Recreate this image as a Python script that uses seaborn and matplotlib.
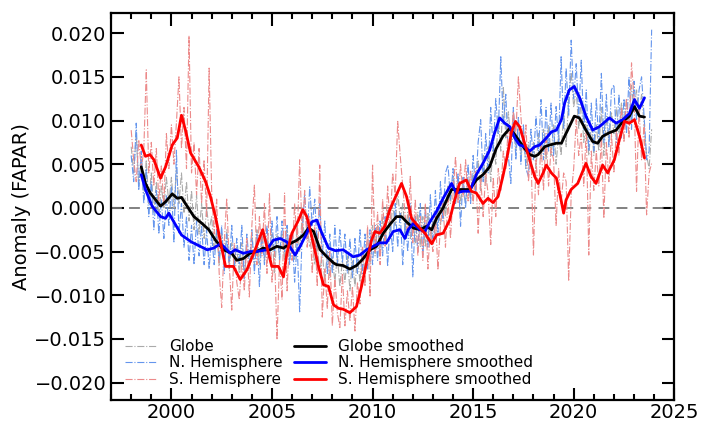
import numpy as np
import matplotlib
matplotlib.use('Agg')
import matplotlib.pyplot as plt
import seaborn as sns
from matplotlib.ticker import MultipleLocator

# raw series: 8 samples per year, 1998.0 ... 2023.875
raw_start = 1998.0
raw_step = 0.125

globe_raw = [
    0.007, 0.004, 0.0085, 0.0025, 0.006, 0.001, 0.0055, 0.0005,
    0.004, -0.0005, 0.003, -0.001, 0.0025, 0.0, 0.0035, 0.0005,
    0.0035, 0.0, 0.0045, 0.0005, 0.004, -0.0005, 0.003, -0.0015,
    0.002, -0.0025, 0.0015, -0.003, 0.0005, -0.0035, 0.0, -0.0025,
    -0.001, -0.005, -0.0025, -0.0065, -0.003, -0.0065, -0.0025, -0.007,
    -0.004, -0.007, -0.0045, -0.0075, -0.004, -0.008, -0.0045, -0.007,
    -0.003, -0.0065, -0.0025, -0.0065, -0.003, -0.006, -0.0035, -0.0055,
    -0.003, -0.0075, -0.003, -0.006, -0.003, -0.006, -0.0025, -0.0055,
    -0.0035, -0.006, -0.002, -0.005, -0.001, -0.0035, -0.002, -0.0045,
    -0.0035, -0.0065, -0.004, -0.0075, -0.005, -0.0085, -0.005, -0.008,
    -0.0055, -0.0085, -0.0055, -0.009, -0.006, -0.0085, -0.0055, -0.0095,
    -0.006, -0.009, -0.0055, -0.0085, -0.0045, -0.0075, -0.003, -0.0065,
    -0.002, -0.0055, -0.002, -0.005, -0.001, -0.004, 0.0, -0.0035,
    0.0005, -0.002, 0.002, -0.0015, 0.0005, -0.003, -0.0005, -0.0035,
    -0.001, -0.004, -0.0005, -0.0045, -0.001, -0.0045, -0.0005, -0.004,
    -0.0015, -0.0035, 0.0, -0.002, 0.001, -0.001, 0.0025, 0.0005,
    0.0035, 0.0005, 0.0035, 0.0005, 0.003, 0.0005, 0.0035, 0.001,
    0.004, 0.0015, 0.0055, 0.002, 0.006, 0.0025, 0.007, 0.003,
    0.0075, 0.005, 0.0105, 0.0065, 0.0139, 0.008, 0.011, 0.0075,
    0.011, 0.0065, 0.0095, 0.006, 0.009, 0.0045, 0.0075, 0.0045,
    0.0075, 0.0045, 0.0085, 0.0055, 0.009, 0.0055, 0.0095, 0.006,
    0.0095, 0.005, 0.0085, 0.006, 0.011, 0.007, 0.0125, 0.0155,
    0.0115, 0.0135, 0.009, 0.0125, 0.0075, 0.0105, 0.006, 0.0095,
    0.006, 0.0095, 0.0065, 0.0115, 0.006, 0.0105, 0.0075, 0.011,
    0.0085, 0.0115, 0.0085, 0.012, 0.0095, 0.0125, 0.0095, 0.014,
    0.011, 0.0135, 0.0105, 0.013, 0.0095, 0.006, 0.0045, 0.009,
]

nh_raw = [
    0.006, 0.003, 0.0097, 0.002, 0.0065, 0.0005, 0.0045, -0.001,
    0.003, -0.0025, 0.002, -0.003, 0.001, -0.0035, 0.0015, -0.002,
    0.0025, -0.004, 0.0066, -0.003, 0.0005, -0.0045, -0.001, -0.006,
    -0.002, -0.0065, -0.0015, -0.0055, -0.002, -0.0065, -0.0025, -0.007,
    -0.003, -0.0065, -0.0025, -0.006, -0.002, -0.0075, -0.003, -0.0065,
    -0.002, -0.007, -0.0035, -0.0065, -0.002, -0.0082, -0.003, -0.0065,
    -0.0025, -0.0075, -0.003, -0.009, -0.0025, -0.0065, -0.002, -0.006,
    -0.0015, -0.0055, -0.001, -0.006, -0.0015, -0.005, -0.002, -0.0065,
    -0.003, -0.0085, -0.004, -0.0119, -0.003, 0.0017, -0.0035, 0.0024,
    -0.002, 0.001, -0.0045, 0.0005, -0.0055, -0.0015, -0.0075, -0.003,
    -0.0075, -0.002, -0.0065, -0.0025, -0.0063, -0.003, -0.0075, -0.0035,
    -0.008, -0.0035, -0.0075, -0.0025, -0.0075, -0.003, -0.007, -0.0025,
    -0.0065, -0.002, -0.006, -0.0015, -0.0055, -0.001, -0.0067, -0.0015,
    -0.005, 0.0005, -0.0045, -0.0005, -0.0065, -0.0015, -0.005, 0.0005,
    -0.0079, -0.001, -0.005, 0.0005, -0.0055, 0.0, -0.0045, 0.0015,
    -0.0035, 0.002, -0.003, 0.003, -0.0015, 0.004, 0.0049, 0.001,
    0.0045, 0.0005, 0.004, -0.0021, 0.0035, 0.0, 0.005, 0.0005,
    0.006, 0.002, 0.0075, 0.0101, 0.003, 0.0085, 0.004, 0.0115,
    0.0065, 0.0125, 0.0085, 0.0173, 0.0095, 0.013, 0.006, 0.0028,
    0.0115, 0.0055, 0.0105, 0.005, 0.0095, 0.0045, 0.0036, 0.009,
    0.0055, 0.0105, 0.0065, 0.0124, 0.0055, 0.0115, 0.0065, 0.012,
    0.006, 0.0116, 0.0075, 0.0173, 0.009, 0.016, 0.0105, 0.0192,
    0.0125, 0.0165, 0.0105, 0.0169, 0.009, 0.0135, 0.0065, 0.012,
    0.0065, 0.0125, 0.0075, 0.0154, 0.0075, 0.013, 0.007, 0.0135,
    0.0141, 0.0075, 0.013, 0.008, 0.0125, 0.0085, 0.015, 0.009,
    0.0145, 0.01, 0.0135, 0.015, 0.0105, 0.0055, 0.0065, 0.0204,
]

sh_raw = [
    0.0089, 0.0055, 0.003, 0.0078, 0.0045, 0.0065, 0.0158, 0.004,
    0.0075, 0.0025, 0.0068, 0.0008, 0.0048, 0.0002, 0.0085, 0.0045,
    0.0095, 0.005, 0.0098, 0.015, 0.0068, 0.0115, 0.0045, 0.0197,
    0.004, 0.0075, 0.0015, 0.0068, 0.0005, 0.0055, -0.001, 0.016,
    0.002, -0.003, 0.001, -0.0075, -0.0114, -0.004, 0.0011, -0.0065,
    -0.0117, -0.004, -0.0085, -0.0105, -0.006, -0.0095, -0.0035, -0.0102,
    -0.002, 0.0026, -0.0065, -0.001, -0.0055, 0.0005, -0.0075, 0.0017,
    -0.0085, -0.005, -0.0151, -0.006, -0.0105, 0.0017, -0.0095, -0.003,
    -0.006, 0.0005, -0.004, 0.0055, -0.003, 0.002, -0.0045, -0.001,
    -0.0075, -0.002, -0.009, 0.0049, -0.0125, -0.007, -0.0115, -0.005,
    -0.0135, -0.008, -0.012, -0.0137, -0.0075, -0.0135, -0.0095, -0.013,
    -0.009, -0.0141, -0.0085, -0.011, -0.0045, -0.009, -0.002, -0.0102,
    0.0049, -0.005, -0.0005, -0.0065, 0.001, -0.0045, 0.0025, -0.002,
    0.004, 0.0015, 0.0099, 0.006, 0.0025, -0.001, -0.003, 0.0036,
    -0.004, 0.001, -0.0055, -0.001, -0.006, 0.0005, -0.007, -0.0025,
    -0.005, -0.001, -0.0071, -0.002, 0.0005, -0.0045, 0.001, -0.0035,
    0.0015, 0.0059, 0.0005, 0.005, 0.0012, 0.0055, 0.0008, 0.0042,
    0.0005, 0.0045, -0.0029, 0.0035, -0.001, 0.004, 0.0015, -0.0042,
    0.0035, -0.001, 0.0045, 0.002, 0.0065, 0.0045, 0.0095, 0.0075,
    0.011, 0.0085, 0.015, 0.0105, 0.0065, 0.0095, 0.003, 0.0065,
    -0.0054, 0.0055, 0.0015, 0.0075, 0.002, 0.0085, 0.0025, 0.0068,
    0.0055, -0.002, 0.0045, 0.0005, 0.004, 0.003, -0.0084, 0.0015,
    0.0045, 0.0101, 0.006, 0.0085, 0.0025, 0.009, -0.0054, 0.0065,
    0.002, 0.0065, 0.0025, 0.008, -0.0012, 0.0075, 0.003, 0.0085,
    0.004, 0.009, 0.006, 0.0115, 0.0075, 0.0125, 0.008, 0.0166,
    0.0125, 0.0019, 0.0115, 0.0055, 0.0095, -0.0008, 0.004, 0.0051,
]

# smoothed series (read at irregular points)
globe_sm_t = [1998.5, 1998.71, 1998.95, 1999.46, 1999.71, 2000.04, 2000.29, 2000.5, 2000.78,
              2001.12, 2001.53, 2001.86, 2002.19, 2002.59, 2003.0, 2003.25, 2003.58, 2003.91,
              2004.24, 2004.57, 2004.91, 2005.24, 2005.57, 2005.9, 2006.24, 2006.57, 2006.82,
              2007.07, 2007.4, 2007.73, 2008.06, 2008.21, 2008.54, 2008.87, 2009.2, 2009.54,
              2009.87, 2010.2, 2010.53, 2010.86, 2011.19, 2011.44, 2011.69, 2012.02, 2012.36,
              2012.69, 2012.94, 2013.18, 2013.51, 2013.76, 2013.93, 2014.16, 2014.49, 2014.83,
              2015.16, 2015.49, 2015.82, 2016.15, 2016.48, 2016.82, 2017.07, 2017.31, 2017.56,
              2017.81, 2018.06, 2018.23, 2018.56, 2018.81, 2019.14, 2019.39, 2019.55, 2019.7,
              2020.03, 2020.28, 2020.61, 2020.94, 2021.19, 2021.44, 2021.77, 2022.11, 2022.44,
              2022.77, 2023.02, 2023.27, 2023.52]
globe_sm = [0.0047, 0.0028, 0.0017, 0.0002, 0.0007, 0.0016, 0.0011, 0.0012, 0.0002,
            -0.001, -0.0018, -0.0025, -0.0037, -0.0048, -0.0052, -0.006, -0.0058, -0.0052,
            -0.005, -0.0046, -0.0048, -0.0044, -0.0046, -0.0041, -0.0037, -0.0031, -0.0023,
            -0.0027, -0.0048, -0.0056, -0.0063, -0.0065, -0.0066, -0.007, -0.0066, -0.0058,
            -0.0048, -0.0044, -0.0029, -0.0019, -0.001, -0.001, -0.0016, -0.0023, -0.0025,
            -0.0021, -0.0025, -0.0012, 0.0, 0.0013, 0.0021, 0.0021, 0.0021, 0.0021,
            0.0032, 0.0038, 0.0047, 0.0068, 0.0082, 0.0091, 0.0084, 0.0076, 0.0068,
            0.0061, 0.0059, 0.0061, 0.007, 0.0072, 0.0074, 0.0074, 0.0082, 0.0089,
            0.0105, 0.0103, 0.0089, 0.0076, 0.0074, 0.0082, 0.0086, 0.0089, 0.0099,
            0.0105, 0.0116, 0.0105, 0.0104]

nh_sm_t = [1998.5, 1998.71, 1999.04, 1999.46, 1999.71, 1999.87, 2000.12, 2000.5, 2000.99,
           2001.78, 2002.11, 2002.44, 2002.59, 2002.92, 2003.17, 2003.58, 2003.91, 2004.24,
           2004.74, 2005.07, 2005.41, 2005.74, 2006.15, 2006.4, 2006.73, 2006.98, 2007.23,
           2007.48, 2007.81, 2008.15, 2008.54, 2009.04, 2009.37, 2009.7, 2010.03, 2010.36,
           2010.69, 2011.03, 2011.36, 2011.61, 2011.77, 2012.02, 2012.36, 2012.6, 2012.85,
           2013.18, 2013.51, 2013.93, 2014.16, 2014.49, 2014.83, 2015.16, 2015.49, 2015.82,
           2016.07, 2016.32, 2016.57, 2016.82, 2017.07, 2017.31, 2017.56, 2017.81, 2018.06,
           2018.31, 2018.64, 2018.89, 2019.14, 2019.39, 2019.55, 2019.78, 2020.03, 2020.28,
           2020.61, 2020.94, 2021.28, 2021.78, 2022.11, 2022.44, 2022.77, 2023.02, 2023.27,
           2023.52]
nh_sm = [0.0038, 0.0021, 0.0002, -0.001, -0.0012, -0.0006, -0.0016, -0.0031, -0.0039,
         -0.0048, -0.0046, -0.0041, -0.0044, -0.0052, -0.0048, -0.0052, -0.005, -0.005,
         -0.0048, -0.0037, -0.0035, -0.0039, -0.0054, -0.0044, -0.0029, -0.0016, -0.0014,
         -0.0029, -0.0046, -0.0049, -0.0048, -0.0056, -0.0054, -0.0048, -0.0044, -0.004,
         -0.004, -0.0027, -0.0025, -0.0035, -0.0025, -0.0018, -0.0025, -0.0027, -0.0016,
         -0.0004, 0.0011, 0.0028, 0.0017, 0.0019, 0.0019, 0.0038, 0.0051, 0.0066,
         0.0086, 0.0103, 0.0097, 0.0093, 0.008, 0.0072, 0.007, 0.0065, 0.007,
         0.0072, 0.008, 0.0087, 0.0089, 0.0101, 0.012, 0.0135, 0.0139, 0.0127,
         0.0105, 0.0089, 0.0093, 0.0103, 0.0097, 0.0101, 0.0108, 0.0124, 0.0114,
         0.0126]

sh_sm_t = [1998.5, 1998.71, 1998.93, 1999.13, 1999.46, 1999.71, 2000.04, 2000.29, 2000.5,
           2000.7, 2000.95, 2001.36, 2001.7, 2001.94, 2002.19, 2002.44, 2002.69, 2003.08,
           2003.42, 2003.75, 2004.16, 2004.54, 2004.74, 2004.99, 2005.32, 2005.57, 2005.74,
           2005.99, 2006.32, 2006.53, 2006.73, 2006.98, 2007.31, 2007.56, 2007.81, 2008.06,
           2008.31, 2008.54, 2008.87, 2009.2, 2009.45, 2009.7, 2009.95, 2010.12, 2010.36,
           2010.61, 2010.86, 2011.11, 2011.44, 2011.69, 2011.94, 2012.27, 2012.6, 2012.94,
           2013.18, 2013.51, 2013.83, 2014.08, 2014.33, 2014.66, 2014.91, 2015.16, 2015.49,
           2015.74, 2015.99, 2016.24, 2016.48, 2016.73, 2016.9, 2017.1, 2017.31, 2017.56,
           2017.81, 2018.06, 2018.23, 2018.48, 2018.64, 2018.89, 2019.14, 2019.39, 2019.5,
           2019.62, 2019.87, 2020.2, 2020.61, 2020.86, 2021.11, 2021.44, 2021.69, 2022.02,
           2022.27, 2022.52, 2022.77, 2023.02, 2023.27, 2023.52]
sh_sm = [0.0072, 0.0059, 0.0061, 0.0055, 0.0034, 0.0047, 0.0072, 0.008, 0.0106,
         0.0089, 0.0063, 0.0047, 0.003, 0.0013, -0.001, -0.0039, -0.0067, -0.0067,
         -0.0082, -0.0071, -0.0048, -0.0025, -0.0044, -0.0067, -0.0067, -0.0079, -0.0052,
         -0.0029, -0.0014, -0.0002, -0.001, -0.0033, -0.0067, -0.0088, -0.009, -0.0111,
         -0.0115, -0.0116, -0.012, -0.0113, -0.009, -0.0063, -0.0037, -0.0027, -0.0029,
         -0.0021, -0.0002, 0.0011, 0.0028, 0.0013, -0.0012, -0.0021, -0.0029, -0.0041,
         -0.0031, -0.0029, -0.0014, 0.0009, 0.0028, 0.0032, 0.0019, 0.0017, 0.0005,
         0.0011, 0.0006, 0.0013, 0.0036, 0.0063, 0.0086, 0.0099, 0.0093, 0.0074,
         0.0055, 0.0036, 0.0028, 0.004, 0.0049, 0.004, 0.0034, 0.0007, -0.0006,
         0.0009, 0.0021, 0.0028, 0.0051, 0.0036, 0.0028, 0.0049, 0.004, 0.0055,
         0.0078, 0.0099, 0.0097, 0.0101, 0.0082, 0.0057]

raw_t = raw_start + raw_step * np.arange(len(globe_raw))

sns.set_style('ticks')
plt.rcParams['font.family'] = ['DejaVu Sans']
plt.rcParams['text.color'] = 'black'
plt.rcParams['axes.labelcolor'] = 'black'

fig, ax = plt.subplots(figsize=(7.12, 4.22), dpi=100)
fig.subplots_adjust(left=0.156, right=0.947, bottom=0.052, top=0.969)

raw_lw = 0.8
sns.lineplot(x=raw_t, y=globe_raw, ax=ax, color='#aaaaaa', lw=raw_lw, linestyle='-.', label='Globe')
sns.lineplot(x=raw_t, y=nh_raw, ax=ax, color='#6495ed', lw=raw_lw, linestyle='-.', label='N. Hemisphere')
sns.lineplot(x=raw_t, y=sh_raw, ax=ax, color='#ec8a8a', lw=raw_lw, linestyle='-.', label='S. Hemisphere')

sns.lineplot(x=globe_sm_t, y=globe_sm, ax=ax, color='black', lw=2, label='Globe smoothed')
sns.lineplot(x=nh_sm_t, y=nh_sm, ax=ax, color='#0000ff', lw=2, label='N. Hemisphere smoothed')
sns.lineplot(x=sh_sm_t, y=sh_sm, ax=ax, color='#ff0000', lw=2, label='S. Hemisphere smoothed')

ax.axhline(0, color='#777777', lw=1.3, linestyle=(0, (6, 4)), zorder=1)

ax.set_xlim(1997, 2025)
ax.set_ylim(-0.022, 0.0223)
ax.xaxis.set_major_locator(MultipleLocator(5))
ax.xaxis.set_minor_locator(MultipleLocator(1))
ax.yaxis.set_major_locator(MultipleLocator(0.005))
ax.tick_params(which='both', direction='in', top=True, right=True, labelsize=14, width=1.5,
               color='black', labelcolor='black')
ax.tick_params(which='major', length=9)
ax.tick_params(which='minor', length=4.5)
ax.tick_params(axis='x', pad=2)
for s in ax.spines.values():
    s.set_linewidth(1.6)
    s.set_color('black')

ax.set_xlabel('')
ax.set_ylabel('Anomaly (FAPAR)', fontsize=14, labelpad=2)

ax.legend(ncol=2, frameon=False, fontsize=11, loc='lower left', bbox_to_anchor=(0.014, 0.018),
          borderaxespad=0, labelspacing=0.1, handlelength=2.1, handletextpad=0.8, columnspacing=0.7)

plt.savefig('out.png', dpi=100)
